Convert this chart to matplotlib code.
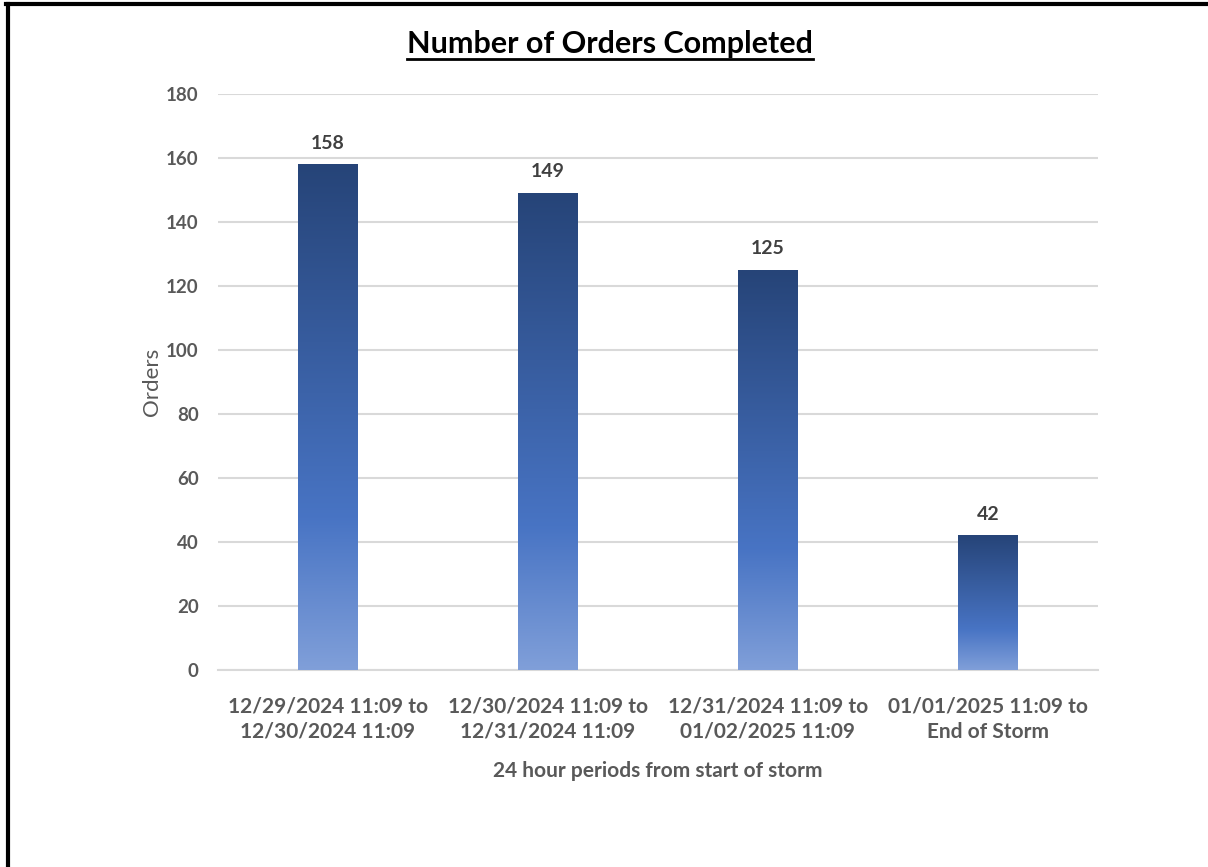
import numpy as np
import matplotlib
matplotlib.use('Agg')
from matplotlib import pyplot as plt
from matplotlib.colors import LinearSegmentedColormap
from matplotlib.lines import Line2D

plt.rcParams['font.family'] = ['Lato', 'DejaVu Sans']

# data
periods = ['12/29/2024 11:09 to\n12/30/2024 11:09',
           '12/30/2024 11:09 to\n12/31/2024 11:09',
           '12/31/2024 11:09 to\n01/02/2025 11:09',
           '01/01/2025 11:09 to\nEnd of Storm']
orders = [158, 149, 125, 42]
yticks = [0, 20, 40, 60, 80, 100, 120, 140, 160, 180]

grey = '#595959'
grid_c = '#d9d9d9'
# gradient from bottom (light) to top (dark)
cmap = LinearSegmentedColormap.from_list(
    'bar', [(0.0, '#809fd9'), (0.3, '#4874c4'), (1.0, '#264478')])

fig = plt.figure(figsize=(12.08, 8.67), dpi=100)
ax = fig.add_axes([218 / 1208, 1 - 670 / 867, 880 / 1208, 576 / 867])

x = np.arange(len(orders))
w = 0.27
grad = np.linspace(0, 1, 256).reshape(-1, 1)
for xi, v in zip(x, orders):
    ax.imshow(grad, cmap=cmap, origin='lower', aspect='auto',
              extent=(xi - w / 2, xi + w / 2, 0, v), zorder=3)
    ax.text(xi, v + 4, str(v), ha='center', va='bottom', fontsize=14,
            fontweight='bold', color='#404040')

ax.set_xlim(-0.5, len(orders) - 0.5)
ax.set_ylim(0, 180)
ax.set_yticks(yticks)
ax.set_xticks(x)
ax.set_xticklabels(periods, fontsize=15, fontweight='bold', color=grey,
                   linespacing=1.35)
for lab in ax.get_yticklabels():
    lab.set_fontsize(13.5)
    lab.set_fontweight('bold')
    lab.set_color(grey)
ax.tick_params(axis='both', length=0)
ax.tick_params(axis='y', pad=14)
ax.tick_params(axis='x', pad=19)
ax.grid(axis='y', color=grid_c, linewidth=1.5, zorder=0)
ax.set_axisbelow(True)
for s in ['top', 'right', 'left']:
    ax.spines[s].set_visible(False)
ax.spines['bottom'].set_color(grid_c)
ax.spines['bottom'].set_linewidth(1.5)

ax.set_ylabel('Orders', fontsize=16, color=grey, labelpad=3)
ax.set_xlabel('24 hour periods from start of storm', fontsize=15,
              fontweight='bold', color=grey, labelpad=14)

# title with underline
title = fig.text(610 / 1208, 1 - 44 / 867, 'Number of Orders Completed',
                 ha='center', va='center', fontsize=22, fontweight='bold',
                 color='black')
fig.canvas.draw()
bb = title.get_window_extent()
fig.add_artist(Line2D([bb.x0 / 1208, bb.x1 / 1208],
                      [(bb.y0 - 1) / 867, (bb.y0 - 1) / 867],
                      color='black', linewidth=2))

# black frame on left and top edges
fig.add_artist(Line2D([8 / 1208, 8 / 1208], [0, 1 - 4 / 867],
                      color='black', linewidth=3))
fig.add_artist(Line2D([6 / 1208, 1], [1 - 4 / 867, 1 - 4 / 867],
                      color='black', linewidth=3))

fig.savefig('out.png', dpi=100)
